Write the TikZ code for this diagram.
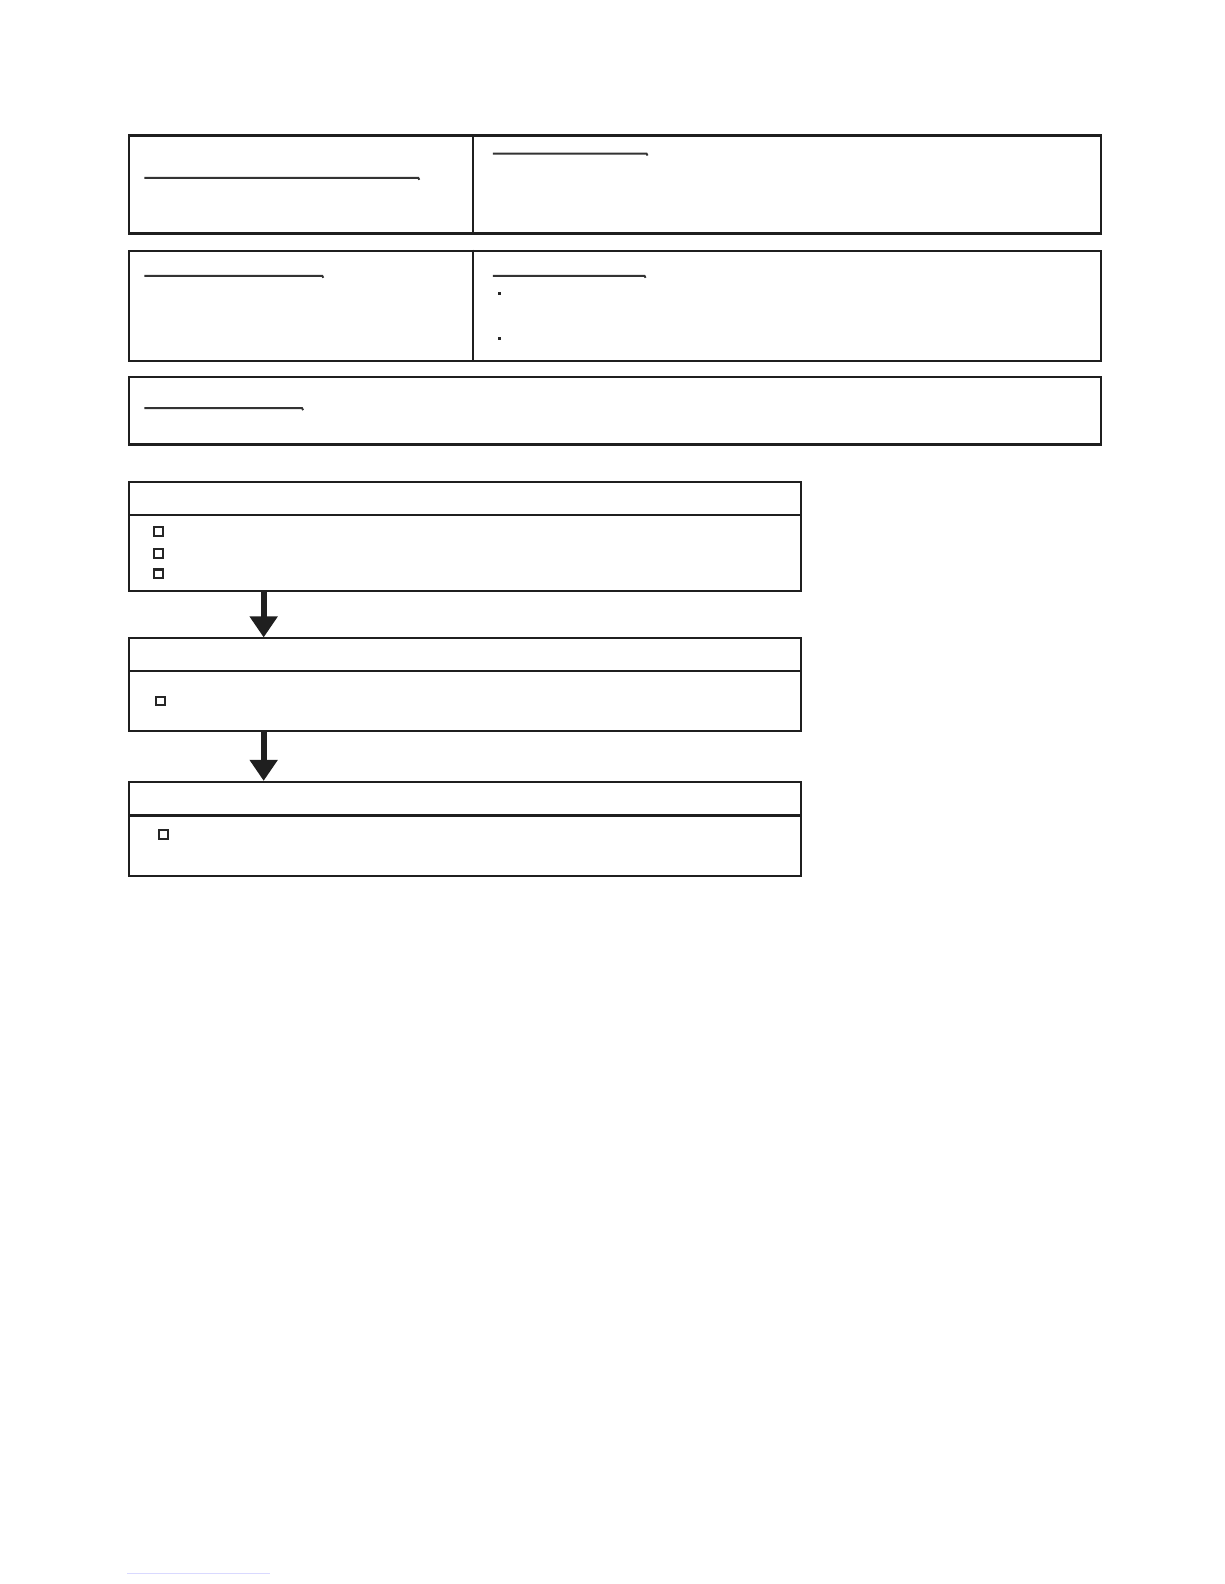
\documentclass[tikz,border=0pt]{standalone}
\usetikzlibrary{arrows.meta,calc}
\begin{document}
\begin{tikzpicture}[x=0.6pt,y=-0.6pt,
  frame/.style={draw=black!88, line width=1.3pt, rectangle, inner sep=0pt, anchor=north west},
  divider/.style={draw=black!88, line width=1.3pt},
  uline/.style={draw=black!80, line width=1.15pt},
  cbox/.style={draw=black!85, line width=1.2pt, rectangle, inner sep=0pt, minimum size=8.5*0.6pt},
  dotbox/.style={fill=black!85, rectangle, inner sep=0pt, minimum size=3*0.6pt},
  flowarrow/.style={draw=black!88, line width=3.7pt, -{Triangle[width=16pt,length=12.5pt]}}]
\useasboundingbox (0,0) rectangle (1212,1568);
% --- top information boxes
\node[frame, minimum width=962*0.6pt, minimum height=97*0.6pt] (T1) at (127,133) {};
\node[frame, minimum width=962*0.6pt, minimum height=109*0.6pt] (T2) at (127,247) {};
\node[frame, minimum width=962*0.6pt, minimum height=67*0.6pt] (T3) at (127,372) {};
\coordinate (d1) at (468,133); \coordinate (d1b) at (468,230);
\coordinate (d2) at (468,247); \coordinate (d2b) at (468,356);
\draw[divider] (d1) -- (d1b);
\draw[divider] (d2) -- (d2b);
% underlines with small end hooks
\draw[uline] (143,176) -- (414,176) -- (415,178);
\draw[uline] (488,152) -- (640,152) -- (641,154);
\draw[uline] (143,273) -- (319,273) -- (320,275);
\draw[uline] (488,273) -- (638,273) -- (639,275);
\draw[uline] (143,404) -- (299,404) -- (300,406);
\node[dotbox] (p1) at (494,291) {};
\node[dotbox] (p2) at (494,335) {};
% --- flow boxes
\node[frame, line width=1.15pt, minimum width=665*0.6pt, minimum height=108*0.6pt] (A) at (127,476) {};
\node[frame, line width=1.15pt, minimum width=665*0.6pt, minimum height=92*0.6pt] (B) at (127,631) {};
\node[frame, line width=1.15pt, minimum width=665*0.6pt, minimum height=93*0.6pt] (C) at (127,773) {};
\draw[divider, line width=1.15pt] (127,510) -- (792,510);
\draw[divider, line width=1.15pt] (127,664) -- (792,664);
\draw[divider, line width=1.6pt] (127,807) -- (792,807);
\node[cbox] (a1) at (157,526) {};
\node[cbox] (a2) at (157,548) {};
\node[cbox] (a3) at (157,568) {};
\node[cbox] (b1) at (159,694) {};
\node[cbox] (c1) at (162,826) {};
% arrows
\coordinate (ax) at (261,0);
\draw[flowarrow] (A.south -| ax) -- (B.north -| ax);
\draw[flowarrow] (B.south -| ax) -- (C.north -| ax);
% faint footer rule
\coordinate (f1) at (126,1558); \coordinate (f2) at (267,1558);
\draw[blue!15, line width=0.5pt] (f1) -- (f2);
\end{tikzpicture}
\end{document}
